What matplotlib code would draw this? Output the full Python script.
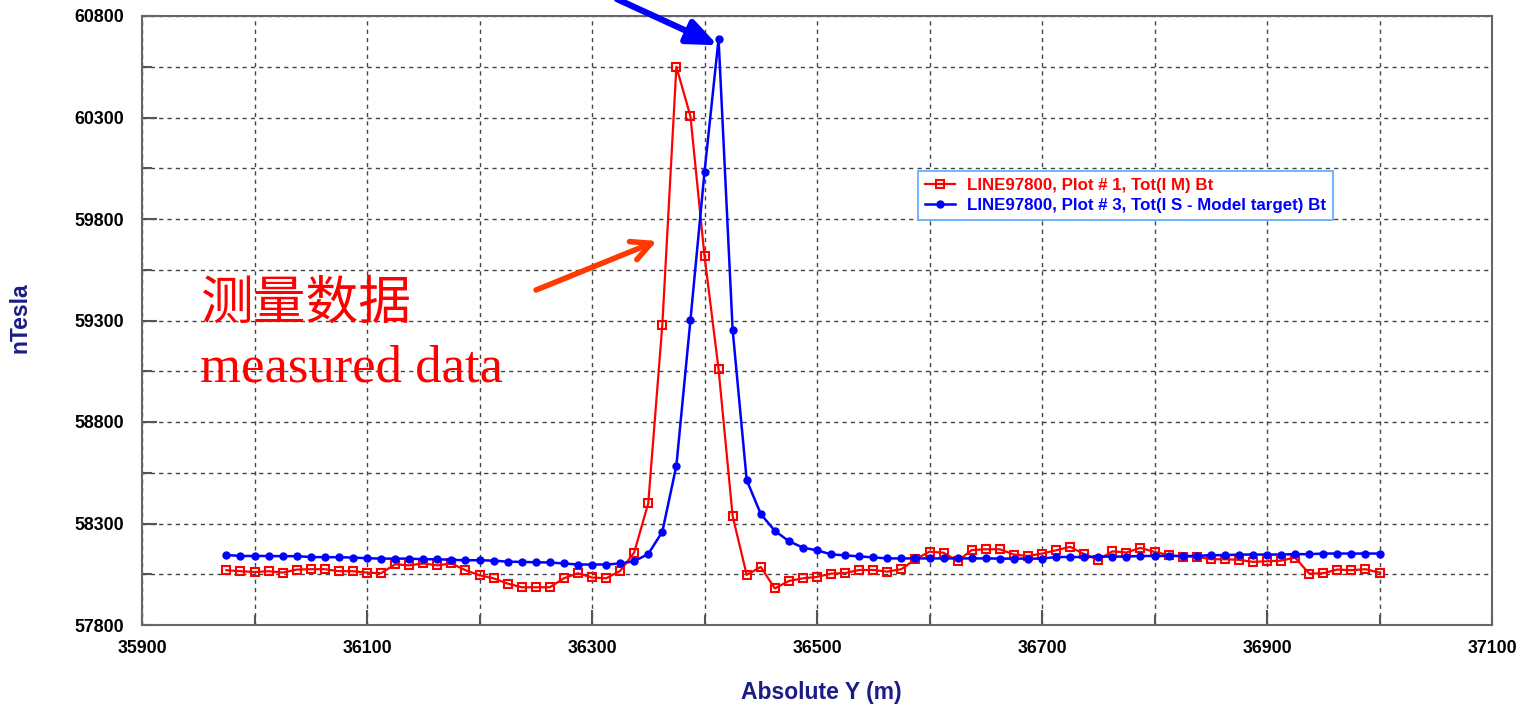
import numpy as np
import matplotlib
matplotlib.use("Agg")
import matplotlib.pyplot as plt

# station positions along the line (12.5 m sampling)
y_stations = np.arange(35975, 37000 + 1, 12.5)

# Plot #1, measured total field (nT)
measured = [
    58070, 58065, 58061, 58065, 58058, 58073, 58075, 58075, 58065, 58065,
    58058, 58055, 58099, 58094, 58103, 58094, 58103, 58070, 58045, 58030,
    58004, 57986, 57986, 57986, 58030, 58055, 58034, 58030, 58066, 58157,
    58400, 59278, 60550, 60306, 59618, 59060, 58337,
    58047, 58086, 57980, 58017, 58030, 58037, 58053, 58056, 58071, 58071,
    58063, 58075, 58124, 58161, 58156, 58115, 58169, 58173, 58173, 58147,
    58140,
    58152, 58168, 58185, 58149, 58121, 58163, 58157, 58180, 58160, 58145,
    58137, 58137, 58124, 58124, 58121, 58111, 58114, 58117, 58132, 58053,
    58055, 58073, 58070, 58075, 58058,
]

# Plot #3, model target total field (nT)
model = [
    58145, 58140, 58140, 58140, 58139, 58139, 58135, 58134, 58134, 58132,
    58129, 58127, 58127, 58127, 58124, 58124, 58121, 58119, 58119, 58117,
    58112, 58111, 58109, 58108, 58103, 58098, 58098, 58098, 58103, 58114,
    58150, 58259, 58585, 59302, 60031, 60687, 59255, 58514, 58347, 58264,
    58213, 58181, 58168, 58148, 58143, 58138, 58133,
    58128, 58128, 58128, 58128, 58128, 58128, 58128, 58128,
    58127, 58127, 58127, 58127,
    58135, 58135, 58135, 58137, 58137, 58137,
    58140, 58140, 58140, 58140, 58140, 58144, 58144,
    58147, 58147, 58147, 58147, 58149, 58149,
    58152, 58152, 58152, 58152, 58152,
]

labels = ["LINE97800, Plot # 1, Tot(I M) Bt",
          "LINE97800, Plot # 3, Tot(I S - Model target) Bt"]

x_major = list(range(35900, 37101, 200))
x_minor = list(range(36000, 37001, 200))
y_major = list(range(57800, 60801, 500))
y_minor = list(range(58050, 60551, 500))

navy = "#1C1C86"

fig = plt.figure(figsize=(15.32, 7.04), dpi=100)
ax = fig.add_axes([142 / 1532, 1 - 625 / 704, 1350 / 1532, 609 / 704])

ax.plot(y_stations, measured, color="red", lw=1.6, marker="s", ms=6,
        mfc="none", mec="red", mew=1.5, label=labels[0])
ax.plot(y_stations, model, color="blue", lw=1.8, marker="o", ms=5,
        mfc="blue", mec="blue", label=labels[1])

ax.set_xlim(35900, 37100)
ax.set_ylim(57800, 60800)
ax.set_xticks(x_major)
ax.set_xticks(x_minor, minor=True)
ax.set_yticks(y_major)
ax.set_yticks(y_minor, minor=True)

ax.grid(True, which="both", color="#444444", linestyle=(0, (3, 3)), lw=1)
ax.tick_params(which="both", direction="in", color="#555555", width=1.5)
ax.tick_params(which="major", length=11)
ax.tick_params(which="minor", length=7)
ax.tick_params(axis="x", pad=11)
ax.tick_params(axis="y", pad=13)
for lab in ax.get_xticklabels() + ax.get_yticklabels():
    lab.set_fontfamily("Liberation Sans")
    lab.set_fontweight("bold")
    lab.set_fontsize(12.8)
for sp in ax.spines.values():
    sp.set_color("#666666")
    sp.set_linewidth(1.5)

fig.text(20 / 1532, 1 - 318 / 704, "nTesla", rotation=90, ha="center",
         va="center", color=navy, fontsize=16.5, fontweight="bold",
         family="Liberation Sans")
fig.text(821 / 1532, 1 - 692 / 704, "Absolute Y (m)", ha="center",
         va="center", color=navy, fontsize=16.5, fontweight="bold",
         family="Liberation Sans")

leg = ax.legend(loc="upper left", bbox_to_anchor=(0.5748, 0.7455),
                borderaxespad=0, fancybox=False, framealpha=1,
                edgecolor="#55A8FF", handlelength=1.8, labelspacing=0.3,
                borderpad=0.4, handletextpad=0.7,
                prop={"family": "Liberation Sans", "weight": "bold",
                      "size": 12.2})
leg.get_frame().set_linewidth(1.2)
for txt, c in zip(leg.get_texts(), ["red", "blue"]):
    txt.set_color(c)

# annotations
ax.text(35952, 59386, "测量数据", color="red", fontsize=38, va="center",
        ha="left", family=["Noto Sans CJK SC", "DejaVu Sans"],
        fontweight="light")
ax.text(35952, 58999, "measured data", color="red", fontsize=38,
        va="baseline", ha="left", family="Liberation Serif")

ax.annotate("", xy=(36360, 59697), xytext=(36248, 59445),
            arrowprops=dict(arrowstyle="->,head_length=1.4,head_width=0.7",
                            color="#FF3A00", lw=4))
ax.annotate("", xy=(36414, 60650), xytext=(36320, 60889),
            annotation_clip=False,
            arrowprops=dict(arrowstyle="-|>,head_length=1.8,head_width=0.75",
                            color="blue", lw=4.5))

fig.savefig("out.png", dpi=100)
